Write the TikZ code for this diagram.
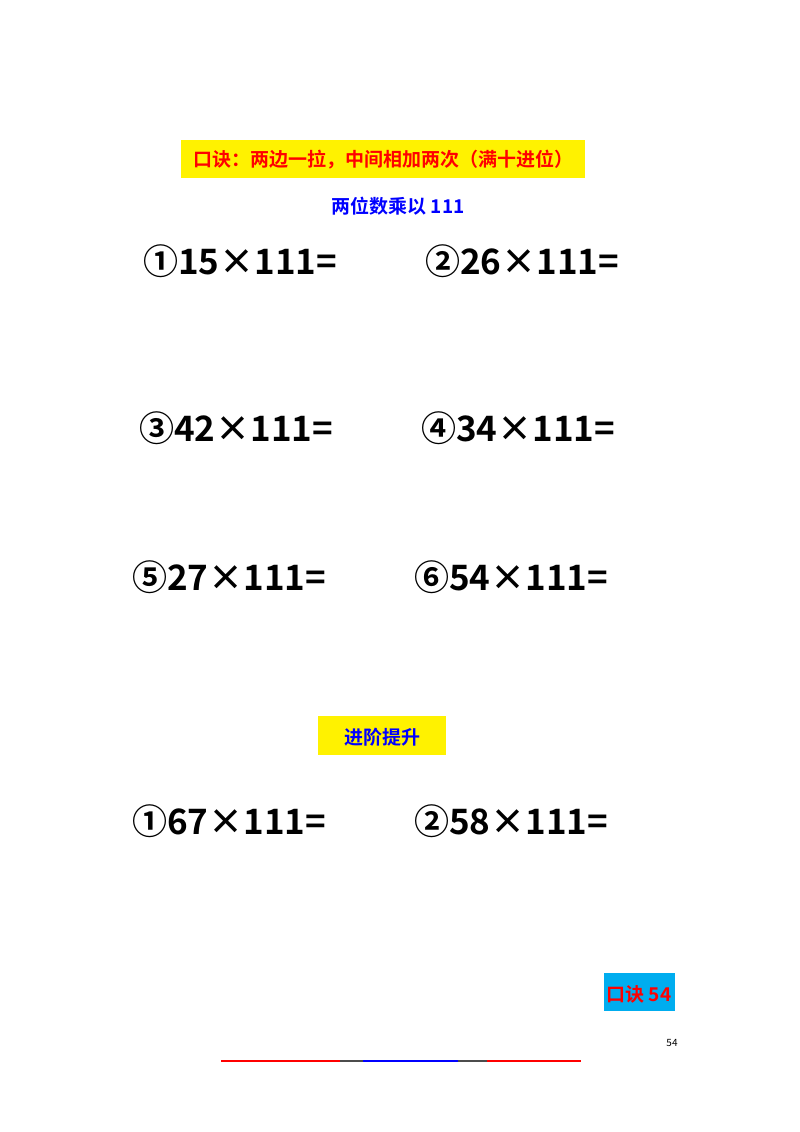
\documentclass[tikz,border=0pt]{standalone}
\usepackage{fontspec}
\newfontfamily\cjk{Noto Sans CJK SC}[BoldFont={Noto Sans CJK SC Bold}]
\newfontfamily\cjkb{Noto Sans CJK SC Bold}
\begin{document}
\begin{tikzpicture}[x=1pt,y=-1pt,
  eq/.style={anchor=west,inner sep=0pt,font=\cjkb\fontsize{35}{35}\selectfont},
  ttl/.style={inner sep=0pt,font=\cjkb\fontsize{19}{19}\selectfont}]
\useasboundingbox (0,0) rectangle (800,1132);
\fill[white] (0,0) rectangle (800,1132);
\fill[yellow] (181,140) rectangle (585,178);
\node[ttl,text=red] (t1) at (383,160) {口诀：两边一拉，中间相加两次（满十进位）};
\node[ttl,text=blue] (t2) at (398,206) {两位数乘以 111};
\node[eq] (q1) at (143,261) {①15×111=};
\node[eq] (q2) at (425,261) {②26×111=};
\node[eq] (q3) at (139,428) {③42×111=};
\node[eq] (q4) at (421,428) {④34×111=};
\node[eq] (q5) at (132,577) {⑤27×111=};
\node[eq] (q6) at (414,577) {⑥54×111=};
\fill[yellow] (318,716) rectangle (446,755);
\node[ttl,text=blue] (t3) at (382,737) {进阶提升};
\node[eq] (a1) at (132,821) {①67×111=};
\node[eq] (a2) at (414,821) {②58×111=};
\fill[cyan] (604,973) rectangle (675,1011);
\node[ttl,text=red] (t4) at (639,994) {口诀 54};
\node[inner sep=0pt,font=\cjk\fontsize{10}{10}\selectfont] (pg) at (672,1043) {54};
\draw[red,line width=1.2] (221,1061) -- (340,1061);
\draw[black!70,line width=1.2] (340,1061) -- (363,1061);
\draw[blue,line width=1.2] (363,1061) -- (458,1061);
\draw[black!70,line width=1.2] (458,1061) -- (487,1061);
\draw[red,line width=1.2] (487,1061) -- (581,1061);
\end{tikzpicture}
\end{document}
